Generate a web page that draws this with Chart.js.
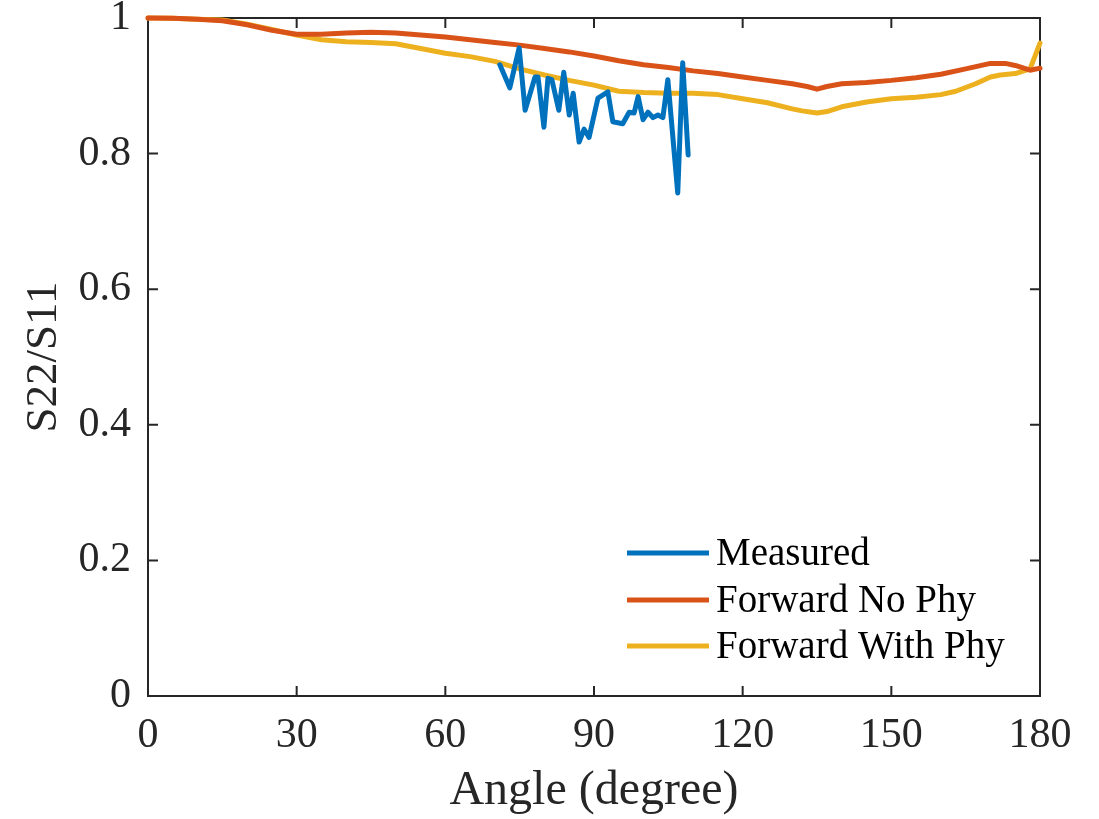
<!DOCTYPE html>
<html>
<head>
<meta charset="utf-8">
<script src="https://cdn.jsdelivr.net/npm/chart.js@4/dist/chart.umd.min.js"></script>
<style>
  html, body { margin: 0; padding: 0; background: #fff; }
  #wrap { width: 1099px; height: 819px; }
</style>
</head>
<body>
<div id="wrap"><canvas id="chart" width="1099" height="819"></canvas></div>
<script>
// angle (degree) / value pairs
const measuredAngle = [71.0, 73.0, 74.9, 76.1, 78.1, 78.7, 79.9, 80.7, 81.5, 82.9, 83.9, 85.0, 85.8, 87.0, 88.0, 89.0, 90.8, 92.8, 93.8, 95.8, 97.1, 98.1, 98.9, 99.9, 100.9, 101.9, 102.9, 103.9, 104.9, 106.9, 107.9, 109.0];
const measuredVal   = [0.931, 0.897, 0.956, 0.864, 0.913, 0.913, 0.839, 0.911, 0.909, 0.864, 0.920, 0.857, 0.889, 0.817, 0.836, 0.824, 0.882, 0.891, 0.847, 0.844, 0.861, 0.860, 0.884, 0.850, 0.861, 0.853, 0.857, 0.853, 0.909, 0.742, 0.934, 0.798];

const noPhyAngle = [0, 5, 10, 15, 20, 25, 30, 35, 40, 45, 50, 55, 60, 65, 70, 75, 80, 85, 90, 95, 100, 105, 110, 115, 120, 125, 130, 133, 135, 137, 140, 145, 150, 155, 160, 165, 170, 173, 175, 178, 180];
const noPhyVal   = [1.000, 0.9995, 0.998, 0.996, 0.990, 0.982, 0.976, 0.976, 0.978, 0.979, 0.978, 0.975, 0.972, 0.968, 0.964, 0.960, 0.955, 0.950, 0.944, 0.937, 0.931, 0.927, 0.922, 0.918, 0.913, 0.908, 0.903, 0.899, 0.895, 0.899, 0.903, 0.905, 0.908, 0.912, 0.917, 0.925, 0.933, 0.933, 0.930, 0.923, 0.926];

const withPhyAngle = [0, 5, 10, 15, 20, 25, 30, 35, 40, 45, 50, 55, 60, 65, 70, 75, 80, 85, 90, 95, 100, 105, 110, 115, 120, 125, 130, 132, 135, 137, 140, 145, 150, 155, 160, 163, 167, 170, 172, 175, 178, 180];
const withPhyVal   = [1.000, 0.9995, 0.998, 0.997, 0.991, 0.983, 0.975, 0.968, 0.965, 0.964, 0.962, 0.955, 0.948, 0.943, 0.936, 0.925, 0.916, 0.908, 0.901, 0.892, 0.890, 0.889, 0.889, 0.887, 0.881, 0.875, 0.866, 0.863, 0.860, 0.862, 0.869, 0.876, 0.881, 0.883, 0.887, 0.892, 0.903, 0.913, 0.916, 0.918, 0.925, 0.963];

const seriesNames = ['Measured', 'Forward No Phy', 'Forward With Phy'];
const seriesColors = ['#0072BD', '#D95319', '#EDB120'];
const xTicks = [0, 30, 60, 90, 120, 150, 180];
const yTicks = [0, 0.2, 0.4, 0.6, 0.8, 1];

const serif = "'Liberation Serif', 'Times New Roman', serif";
const axisColor = '#262626';

function toPoints(xs, ys) {
    return xs.map((x, i) => ({ x: x, y: ys[i] }));
}

// MATLAB style box with inward ticks, drawn under the lines
const boxPlugin = {
    id: 'box',
    beforeDatasetsDraw(chart) {
        const { ctx, chartArea: a, scales } = chart;
        const tl = 10;
        ctx.save();
        ctx.strokeStyle = axisColor;
        ctx.lineWidth = 2;
        ctx.beginPath();
        xTicks.forEach(t => {
            const px = scales.x.getPixelForValue(t);
            ctx.moveTo(px, a.bottom); ctx.lineTo(px, a.bottom - tl);
            ctx.moveTo(px, a.top); ctx.lineTo(px, a.top + tl);
        });
        yTicks.forEach(t => {
            const py = scales.y.getPixelForValue(t);
            ctx.moveTo(a.left, py); ctx.lineTo(a.left + tl, py);
            ctx.moveTo(a.right, py); ctx.lineTo(a.right - tl, py);
        });
        ctx.stroke();
        ctx.strokeRect(a.left, a.top, a.right - a.left, a.bottom - a.top);
        ctx.restore();
    },
    afterDatasetsDraw(chart) {
        // legend inside the lower right of the axes
        const { ctx, chartArea: a } = chart;
        const x0 = a.left + 479, x1 = a.left + 561;
        const rows = [a.top + 535, a.top + 582, a.top + 628];
        ctx.save();
        ctx.font = '39px ' + serif;
        ctx.textBaseline = 'middle';
        ctx.textAlign = 'left';
        chart.data.datasets.forEach((ds, i) => {
            ctx.strokeStyle = ds.borderColor;
            ctx.lineWidth = 5;
            ctx.beginPath();
            ctx.moveTo(x0, rows[i]);
            ctx.lineTo(x1, rows[i]);
            ctx.stroke();
            ctx.fillStyle = '#000';
            ctx.fillText(ds.label, x1 + 7, rows[i] + 2);
        });
        ctx.restore();
    }
};

new Chart(document.getElementById('chart'), {
    type: 'line',
    data: {
        datasets: [
            { label: seriesNames[0], data: toPoints(measuredAngle, measuredVal), borderColor: seriesColors[0] },
            { label: seriesNames[1], data: toPoints(noPhyAngle, noPhyVal), borderColor: seriesColors[1] },
            { label: seriesNames[2], data: toPoints(withPhyAngle, withPhyVal), borderColor: seriesColors[2] }
        ]
    },
    options: {
        responsive: false,
        animation: false,
        clip: false,
        parsing: false,
        elements: {
            point: { radius: 0 },
            line: { borderWidth: 5, tension: 0, borderJoinStyle: 'round', borderCapStyle: 'round' }
        },
        layout: { padding: { top: 18, right: 59, left: 0, bottom: 0 } },
        plugins: { legend: { display: false }, tooltip: { enabled: false } },
        scales: {
            x: {
                type: 'linear',
                min: 0, max: 180,
                afterBuildTicks: s => { s.ticks = xTicks.map(v => ({ value: v })); },
                afterFit: s => { s.height = 123; s.paddingLeft = 0; s.paddingRight = 0; },
                grid: { display: false, drawTicks: false },
                border: { display: false },
                ticks: {
                    padding: 19,
                    color: axisColor,
                    maxRotation: 0,
                    font: { family: serif, size: 42, lineHeight: 1 }
                },
                title: {
                    display: true,
                    text: 'Angle (degree)',
                    color: axisColor,
                    font: { family: serif, size: 48, lineHeight: 1 },
                    padding: { top: 0, bottom: 4 }
                }
            },
            y: {
                min: 0, max: 1,
                afterBuildTicks: s => { s.ticks = yTicks.map(v => ({ value: v })); },
                afterFit: s => { s.width = 148; s.paddingTop = 0; s.paddingBottom = 0; },
                grid: { display: false, drawTicks: false },
                border: { display: false },
                ticks: {
                    padding: 17,
                    color: axisColor,
                    font: { family: serif, size: 42, lineHeight: 0.8 },
                    callback: v => String(Math.round(v * 10) / 10)
                },
                title: {
                    display: true,
                    text: 'S22/S11',
                    color: axisColor,
                    font: { family: serif, size: 45, lineHeight: 1 },
                    padding: { top: 22, bottom: 0 }
                }
            }
        }
    },
    plugins: [boxPlugin]
});
</script>
</body>
</html>
